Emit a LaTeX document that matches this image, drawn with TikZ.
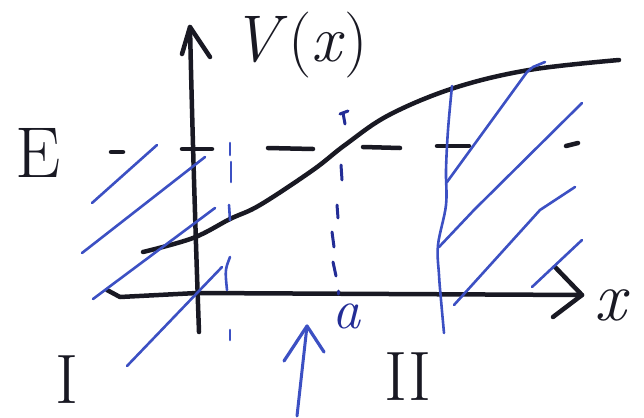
\documentclass[tikz,border=0pt]{standalone}
\begin{document}
\begin{tikzpicture}[x=1pt,y=-1pt,line cap=round,line join=round]
\definecolor{ink}{RGB}{25,25,35}
\definecolor{pen}{RGB}{60,80,195}
\definecolor{navy}{RGB}{35,45,150}
\tikzset{
  blk/.style={draw=ink,line width=4.5pt},
  hatch/.style={draw=pen,line width=2.6pt},
  dsh/.style={draw=navy,line width=3pt},
  lbl/.style={text=ink,inner sep=0pt},
}
\useasboundingbox (0,0) rectangle (644,417);
% axes
\coordinate (ytop) at (190,27);
\coordinate (ybot) at (199,332);
\coordinate (xs) at (107,290);
\coordinate (xtip) at (582,295);
\draw[blk] (ybot) .. controls (196,250) and (192,120) .. (ytop);
\draw[blk] (182,54) -- (ytop) -- (210,57);
\draw[blk] (xs) -- (120,297) -- (197,293) -- (xtip);
\draw[blk] (555,267) -- (xtip) -- (553,317);
% energy dashes
\draw[blk] (111,152) -- (123,152);
\draw[blk] (182,149) -- (212,149);
\draw[blk] (268,148) -- (313,149);
\draw[blk] (363,147) -- (400,148);
\draw[blk] (437,146) -- (469,146);
\draw[blk] (566,146) -- (578,143);
% potential curve
\draw[blk] plot[smooth,tension=0.6] coordinates {(143,252) (193,238) (230,219) (260,205) (313,170) (345,145) (389,115) (454,88) (529,70) (619,60)};
% left hatching
\draw[hatch] (92,203) -- (157,145);
\draw[hatch] (82,253) -- (205,157);
\draw[hatch] (93,299) -- (105,290) -- (215,208);
\draw[hatch] (127,366) -- (222,267);
% left turning-point line
\draw[hatch] (230,143) -- (230,155);
\draw[hatch] (231,162) -- (231,182);
\draw[hatch] (229,205) -- (230,220);
\draw[hatch] (230,257) .. controls (225,270) .. (227,290);
\draw[hatch] (230,330) -- (230,340);
% right turning-point line
\draw[hatch] plot[smooth,tension=0.6] coordinates {(452,86) (448,130) (446,170) (446,205) (438,245) (439,275) (441,300) (444,333)};
% right hatching
\draw[hatch] (447,182) -- (527,72) -- (533,67) -- (545,62);
\draw[hatch] (439,247) -- (474,210) -- (582,103);
\draw[hatch] (454,305) -- (540,210) -- (575,187);
\draw[hatch] (532,287) -- (582,240);
% point a dashes
\draw[dsh] (340,114) -- (348,111);
\draw[dsh] (343,113) -- (345,124);
\draw[dsh] (341,165) -- (342,180);
\draw[dsh] (337,205) -- (338,218);
\draw[dsh] (332,232) -- (334,247);
\draw[dsh] (333,262) -- (336,276);
\draw[dsh] (338,291) -- (338,294);
% arrow to a
\coordinate (atip) at (307,326);
\draw[hatch,line width=3pt] (297,416) -- (atip);
\draw[hatch,line width=3.2pt] (284,361) -- (atip) -- (324,352);
% labels
\node[lbl] (V) at (300,45) {\fontsize{66}{66}\selectfont \textit{V}(\textit{x})};
\node[lbl] (E) at (38,153) {\fontsize{72}{72}\selectfont E};
\node[lbl] (X) at (612,305) {\fontsize{70}{70}\selectfont \textit{x}};
\node[lbl] (I) at (67,380) {\fontsize{70}{70}\selectfont I};
\node[lbl] (II) at (408,377) {\fontsize{70}{70}\selectfont II};
\node[lbl,text=navy] (A) at (347,316) {\fontsize{56}{56}\selectfont \textit{a}};
\end{tikzpicture}
\end{document}
